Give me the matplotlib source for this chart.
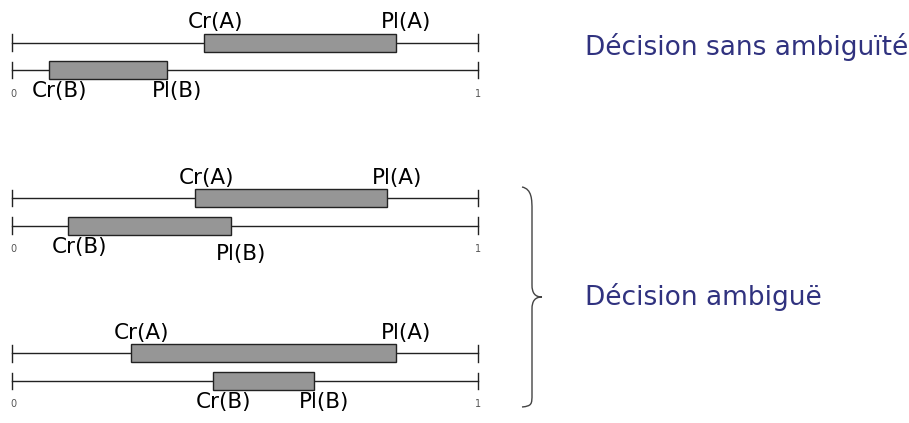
import matplotlib
matplotlib.use("Agg")
import matplotlib.pyplot as plt
from matplotlib.patches import Rectangle, PathPatch
from matplotlib.path import Path

# Intervalles [Cr, Pl] pour A et B dans chaque cas
cr_a = [0.412, 0.393, 0.255]
pl_a = [0.824, 0.805, 0.824]
cr_b = [0.079, 0.120, 0.431]
pl_b = [0.333, 0.470, 0.648]

labels_droite = ["Décision sans ambiguïté", "Décision ambiguë"]

W, H = 909, 423
fig = plt.figure(figsize=(W / 100, H / 100), dpi=100)
fig.patch.set_facecolor("white")

bar_fill = "#969696"
line_col = "#222222"
txt_col = "#30327f"

# centre vertical de chaque panneau (pixels depuis le haut)
centres = [56.5, 212, 367]
unit = 27.5  # pixels entre la ligne A et la ligne B
ax_h = 4 * unit


def panel(ax, ca, pa, cb, pb, off_pl_b=0):
    ax.set_xlim(0, 1)
    ax.set_ylim(-1.5, 2.5)
    ax.axis("off")
    bh = 0.65
    for y, c, p in [(1, ca, pa), (0, cb, pb)]:
        ax.plot([0, 1], [y, y], color=line_col, lw=1, clip_on=False)
        for xe in (0, 1):
            ax.plot([xe, xe], [y - 0.3, y + 0.3], color=line_col, lw=1,
                    clip_on=False)
        ax.add_patch(Rectangle((c, y - bh / 2), p - c, bh, facecolor=bar_fill,
                               edgecolor=line_col, lw=1, zorder=3))
    fs = 15.5
    ax.annotate("Cr(A)", (ca, 1 + bh / 2), xytext=(8, 1), textcoords="offset points",
                ha="center", va="bottom", fontsize=fs)
    ax.annotate("Pl(A)", (pa, 1 + bh / 2), xytext=(7, 1), textcoords="offset points",
                ha="center", va="bottom", fontsize=fs)
    ax.annotate("Cr(B)", (cb, -bh / 2), xytext=(8, -1.5), textcoords="offset points",
                ha="center", va="top", fontsize=fs)
    ax.annotate("Pl(B)", (pb, -bh / 2), xytext=(7, -1.5 - off_pl_b),
                textcoords="offset points", ha="center", va="top", fontsize=fs)
    ax.annotate("0", (0, 0), xytext=(1, -17), textcoords="offset points",
                ha="center", va="center", fontsize=7, color="#555555")
    ax.annotate("1", (1, 0), xytext=(0, -17), textcoords="offset points",
                ha="center", va="center", fontsize=7, color="#555555")


for i in range(3):
    top = centres[i] - ax_h / 2
    ax = fig.add_axes([12 / W, 1 - (top + ax_h) / H, 466 / W, ax_h / H])
    panel(ax, cr_a[i], pl_a[i], cr_b[i], pl_b[i], off_pl_b=5 if i == 1 else 0)

fig.text(585 / W, 1 - 47 / H, labels_droite[0], fontsize=19, color=txt_col,
         ha="left", va="center")
fig.text(585 / W, 1 - 297 / H, labels_droite[1], fontsize=19, color=txt_col,
         ha="left", va="center")

# accolade
def px(x, y):
    return (x / W, 1 - y / H)

verts = [px(522, 187), px(532, 189), px(532, 200), px(532, 210),
         px(532, 285),
         px(532, 293), px(535, 297), px(542, 297),
         px(535, 297), px(532, 301), px(532, 309),
         px(532, 394),
         px(532, 404), px(532, 406), px(522, 407)]
codes = [Path.MOVETO, Path.CURVE4, Path.CURVE4, Path.CURVE4,
         Path.LINETO,
         Path.CURVE4, Path.CURVE4, Path.CURVE4,
         Path.CURVE4, Path.CURVE4, Path.CURVE4,
         Path.LINETO,
         Path.CURVE4, Path.CURVE4, Path.CURVE4]
fig.add_artist(PathPatch(Path(verts, codes), transform=fig.transFigure,
                         facecolor="none", edgecolor="#444444", lw=1))

fig.savefig("out.png", dpi=100)
